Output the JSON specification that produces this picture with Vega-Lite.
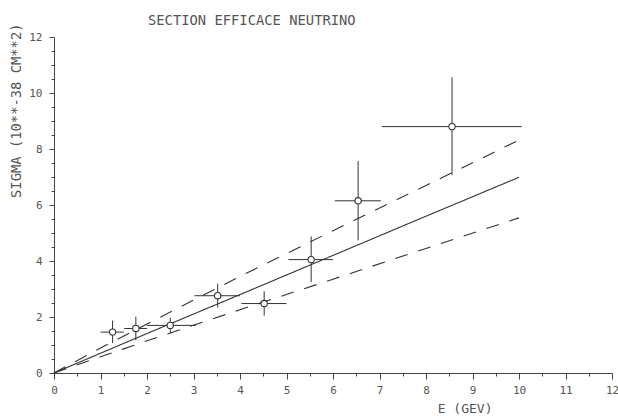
{
  "$schema": "https://vega.github.io/schema/vega-lite/v6.json",
  "width": 558,
  "height": 336,
  "autosize": {"type": "none"},
  "padding": {"left": 54, "top": 37, "right": 6, "bottom": 43},
  "background": "white",
  "config": {
    "view": {"stroke": null},
    "font": "DejaVu Sans Mono"
  },
  "title": {
    "text": "SECTION EFFICACE NEUTRINO",
    "anchor": "start",
    "frame": "group",
    "dx": 94,
    "offset": -16,
    "baseline": "alphabetic",
    "font": "DejaVu Sans Mono",
    "fontSize": 13.8,
    "fontWeight": "normal",
    "color": "#555"
  },
  "datasets": {
    "pts": [
      {"E": 1.26, "S": 1.46, "Elo": 1.0, "Ehi": 1.5, "Slo": 1.07, "Shi": 1.87},
      {"E": 1.76, "S": 1.59, "Elo": 1.51, "Ehi": 2.0, "Slo": 1.17, "Shi": 2.01},
      {"E": 2.5, "S": 1.7, "Elo": 2.0, "Ehi": 3.05, "Slo": 1.42, "Shi": 1.97},
      {"E": 3.52, "S": 2.76, "Elo": 3.02, "Ehi": 4.0, "Slo": 2.34, "Shi": 3.19},
      {"E": 4.52, "S": 2.48, "Elo": 4.03, "Ehi": 5.0, "Slo": 2.05, "Shi": 2.92},
      {"E": 5.53, "S": 4.05, "Elo": 5.04, "Ehi": 6.0, "Slo": 3.24, "Shi": 4.88},
      {"E": 6.54, "S": 6.15, "Elo": 6.04, "Ehi": 7.03, "Slo": 4.74, "Shi": 7.57},
      {"E": 8.56, "S": 8.8, "Elo": 7.05, "Ehi": 10.06, "Slo": 7.07, "Shi": 10.56}
    ],
    "curves": [
      {"curve": "central", "E": 0, "S": 0},
      {"curve": "central", "E": 2, "S": 1.41},
      {"curve": "central", "E": 4, "S": 2.8},
      {"curve": "central", "E": 6, "S": 4.2},
      {"curve": "central", "E": 8, "S": 5.6},
      {"curve": "central", "E": 10, "S": 6.99},
      {"curve": "upper", "E": 0, "S": 0},
      {"curve": "upper", "E": 1, "S": 0.89},
      {"curve": "upper", "E": 2, "S": 1.75},
      {"curve": "upper", "E": 4, "S": 3.45},
      {"curve": "upper", "E": 6, "S": 5.08},
      {"curve": "upper", "E": 8, "S": 6.7},
      {"curve": "upper", "E": 10, "S": 8.32},
      {"curve": "lower", "E": 0, "S": 0},
      {"curve": "lower", "E": 1, "S": 0.58},
      {"curve": "lower", "E": 2, "S": 1.15},
      {"curve": "lower", "E": 4, "S": 2.26},
      {"curve": "lower", "E": 6, "S": 3.35},
      {"curve": "lower", "E": 8, "S": 4.45},
      {"curve": "lower", "E": 10, "S": 5.54}
    ]
  },
  "encoding": {
    "x": {
      "field": "E",
      "type": "quantitative",
      "scale": {"domain": [0, 12], "nice": false, "zero": false},
      "axis": {
        "title": "E (GEV)",
        "titleX": 438,
        "titleY": 35,
        "titleAlign": "right",
        "titleBaseline": "middle",
        "titleFont": "DejaVu Sans Mono",
        "titleFontSize": 13,
        "titleFontWeight": "normal",
        "titleColor": "#555",
        "values": [0, 0.5, 1, 1.5, 2, 2.5, 3, 3.5, 4, 4.5, 5, 5.5, 6, 6.5, 7, 7.5, 8, 8.5, 9, 9.5, 10, 10.5, 11, 11.5, 12],
        "labelExpr": "datum.value % 1 === 0 ? format(datum.value, 'd') : ''",
        "tickSize": {"condition": {"test": "datum.value % 1 === 0", "value": 6}, "value": 3},
        "labelPadding": 5,
        "labelFont": "DejaVu Sans Mono",
        "labelFontSize": 11,
        "labelColor": "#555",
        "labelBaseline": "top",
        "labelFlush": false,
        "grid": false,
        "domainColor": "#444",
        "tickColor": "#444",
        "labelOverlap": false
      }
    },
    "y": {
      "field": "S",
      "type": "quantitative",
      "scale": {"domain": [0, 12], "nice": false},
      "axis": {
        "title": "SIGMA (10**-38 CM**2)",
        "titleX": -37.5,
        "titleY": -14,
        "titleAngle": -90,
        "titleAlign": "right",
        "titleBaseline": "middle",
        "titleFont": "DejaVu Sans Mono",
        "titleFontSize": 13.8,
        "titleFontWeight": "normal",
        "titleColor": "#555",
        "values": [0, 0.5, 1, 1.5, 2, 2.5, 3, 3.5, 4, 4.5, 5, 5.5, 6, 6.5, 7, 7.5, 8, 8.5, 9, 9.5, 10, 10.5, 11, 11.5, 12],
        "labelExpr": "datum.value % 2 === 0 ? format(datum.value, 'd') : ''",
        "tickSize": {"condition": {"test": "datum.value % 2 === 0", "value": 5}, "value": 3},
        "labelPadding": 7,
        "labelFont": "DejaVu Sans Mono",
        "labelFontSize": 11,
        "labelColor": "#555",
        "labelFlush": false,
        "labelOverlap": false,
        "grid": false,
        "domainColor": "#444",
        "tickColor": "#444"
      }
    }
  },
  "layer": [
    {
      "data": {"name": "curves"},
      "mark": {"type": "line", "color": "#333", "strokeWidth": 1.1},
      "encoding": {
        "detail": {"field": "curve"},
        "strokeDash": {
          "field": "curve",
          "type": "nominal",
          "scale": {"domain": ["central", "upper", "lower"], "range": [[1, 0], [13, 11], [13, 11]]},
          "legend": null
        }
      }
    },
    {
      "data": {"name": "pts"},
      "mark": {"type": "rule", "color": "#333", "strokeWidth": 1},
      "encoding": {
        "x": {"field": "Elo", "type": "quantitative"},
        "x2": {"field": "Ehi"}
      }
    },
    {
      "data": {"name": "pts"},
      "mark": {"type": "rule", "color": "#333", "strokeWidth": 1},
      "encoding": {
        "y": {"field": "Slo", "type": "quantitative"},
        "y2": {"field": "Shi"}
      }
    },
    {
      "data": {"name": "pts"},
      "mark": {"type": "point", "shape": "circle", "filled": false, "fill": "white", "fillOpacity": 1, "stroke": "#333", "strokeWidth": 1.1, "size": 40, "opacity": 1},
      "encoding": {}
    }
  ]
}
